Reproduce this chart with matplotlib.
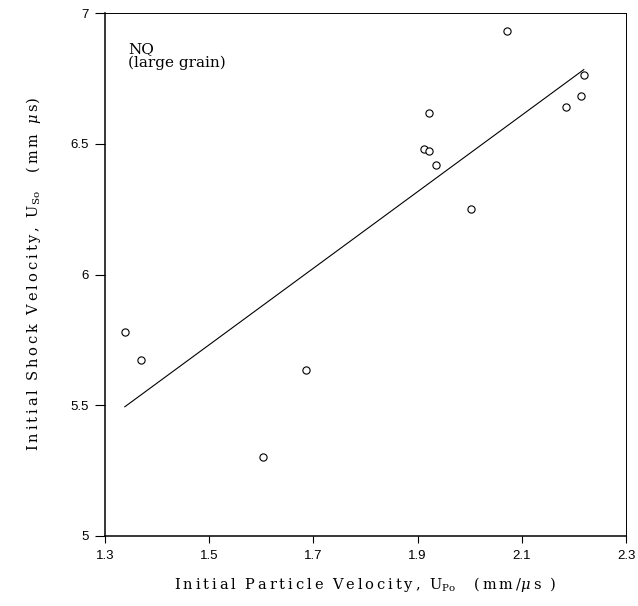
import matplotlib
matplotlib.use("Agg")
import matplotlib.pyplot as plt
import numpy as np

# Initial particle velocity U_Po (mm/us) and initial shock velocity U_So (mm/us)
particle_velocity = [1.338, 1.370, 1.603, 1.685, 1.913, 1.921, 1.921, 1.935,
                     2.002, 2.072, 2.184, 2.214, 2.219]
shock_velocity = [5.781, 5.674, 5.303, 5.636, 6.480, 6.471, 6.619, 6.417,
                  6.251, 6.931, 6.642, 6.681, 6.761]

# Linear fit U_So = a + b * U_Po
fit_intercept = 3.536
fit_slope = 1.4635

x_ticks = [1.3, 1.5, 1.7, 1.9, 2.1, 2.3]
x_tick_labels = ["1.3", "1.5", "1.7", "1.9", "2.1", "2.3"]
y_ticks = [5, 5.5, 6, 6.5, 7]
y_tick_labels = ["5", "5.5", "6", "6.5", "7"]

plt.rcParams["mathtext.fontset"] = "dejavuserif"

THIN = "\u2009"


def tracked(s):
    """Spread the letters of a plain string with thin spaces."""
    return THIN.join(s)


fig = plt.figure(figsize=(6.38, 6.06), dpi=100)
ax = fig.add_axes([105 / 638, 70 / 606, 521 / 638, 523 / 606])

ax.plot(particle_velocity, shock_velocity, linestyle="none", marker="o",
        markersize=5.2, markerfacecolor="white", markeredgecolor="black",
        markeredgewidth=0.8, zorder=3)

fx = np.array([min(particle_velocity), max(particle_velocity)])
ax.plot(fx, fit_intercept + fit_slope * fx, color="black", linewidth=0.8)

ax.set_xlim(1.3, 2.3)
ax.set_ylim(5, 7)
ax.set_xticks(x_ticks)
ax.set_xticklabels(x_tick_labels)
ax.set_yticks(y_ticks)
ax.set_yticklabels(y_tick_labels)
ax.tick_params(axis="x", direction="out", length=5, width=0.8, pad=5,
               labelsize=9.5, colors="black")
ax.tick_params(axis="y", direction="out", length=7, width=0.8, pad=5,
               labelsize=9.5, colors="black")
for lbl in ax.get_xticklabels() + ax.get_yticklabels():
    lbl.set_family("Liberation Sans")

ax.spines["left"].set_linewidth(1.1)
ax.spines["bottom"].set_linewidth(1.1)
ax.spines["top"].set_linewidth(0.7)
ax.spines["right"].set_linewidth(0.7)

serif = "DejaVu Serif"
xlab = (tracked("Initial") + "  " + tracked("Particle") + "  "
        + tracked("Velocity,") + "  U$_{\\mathregular{Po}}$    "
        + tracked("(mm/") + "$\\mu$" + THIN + "s  )")
ylab = (tracked("Initial") + "  " + tracked("Shock") + "  "
        + tracked("Velocity,") + "  U$_{\\mathregular{So}}$    "
        + tracked("(mm") + "  $\\mu$" + THIN + "s)")
ax.set_xlabel(xlab, family=serif, fontsize=10.5)
ax.set_ylabel(ylab, family=serif, fontsize=10.5)
ax.xaxis.set_label_coords(0.5, -0.075)
ax.yaxis.set_label_coords(-0.119, 0.5)

ax.text(0.045, 0.945, "NQ\n(large grain)", transform=ax.transAxes,
        family=serif, fontsize=11, va="top", ha="left", linespacing=1.0)

fig.savefig("out.png", dpi=100)
